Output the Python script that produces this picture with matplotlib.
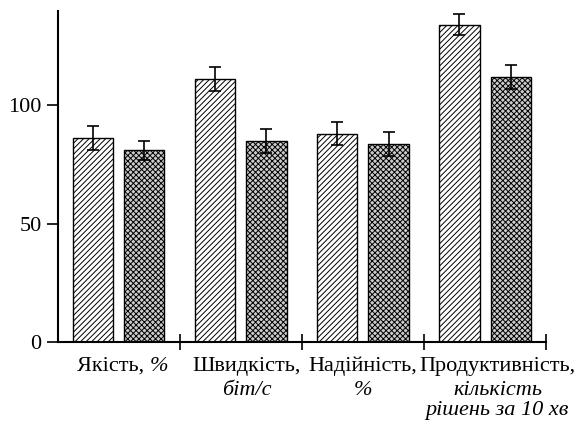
import numpy as np
import matplotlib.pyplot as plt
import matplotlib.transforms as mtransforms

plt.rcParams['font.family'] = ['Liberation Serif', 'DejaVu Serif']
plt.rcParams['hatch.linewidth'] = 0.7

# ---------------------------
# Дані
# ---------------------------
names = ["Якість,", "Швидкість,", "Надійність,", "Продуктивність,"]
units = ["%", "біт/с", "%", "кількість\nрішень за 10 хв"]
group1 = [86, 111, 88, 134]
group2 = [81, 85, 83.5, 112]
err1 = [5, 5, 5, 4.5]
err2 = [4, 5, 5, 5]
label_x = [0.755, 1.55, 2.5, 3.6]

x = np.arange(len(group1))
w = 0.33

fig, ax = plt.subplots(figsize=(5.75, 4.22), dpi=100)
ekw = dict(ecolor="black", elinewidth=1.2, capsize=4, capthick=1.2)
ax.bar(x + 0.29, group1, w, yerr=err1, color="white", edgecolor="black", hatch="//////",
       linewidth=1.0, error_kw=ekw)
ax.bar(x + 0.71, group2, w, yerr=err2, color="#cccccc", edgecolor="black", hatch="xxxxxx",
       linewidth=1.0, error_kw=ekw)

ax.set_xlim(0, 4)
ax.set_ylim(0, 140)
ax.set_yticks([0, 50, 100])
ax.set_xticks([1, 2, 3, 4])
ax.set_xticklabels([])
ax.tick_params(axis="x", which="major", direction="inout", length=12, width=1.2)
ax.tick_params(axis="y", direction="out", length=8, width=1.2, labelsize=16)

# підписи категорій: назва + одиниці курсивом
trans = mtransforms.blended_transform_factory(ax.transData, ax.transAxes)
for i in range(len(names)):
    if i == 0:
        ax.text(label_x[i], -0.045, names[i] + " ", transform=trans, ha="right", va="top",
                fontsize=16)
        ax.text(label_x[i], -0.045, units[i], transform=trans, ha="left", va="top",
                fontsize=16, style="italic")
    else:
        ax.text(label_x[i], -0.045, names[i], transform=trans, ha="center", va="top",
                fontsize=16)
        ax.text(label_x[i], -0.118, units[i], transform=trans, ha="center", va="top",
                fontsize=16, style="italic", linespacing=1.08)

ax.spines["top"].set_visible(False)
ax.spines["right"].set_visible(False)
ax.spines["left"].set_linewidth(1.5)
ax.spines["bottom"].set_linewidth(1.5)

plt.subplots_adjust(left=0.10, right=0.95, bottom=0.19, top=0.975)
plt.savefig("out.png", dpi=100)
